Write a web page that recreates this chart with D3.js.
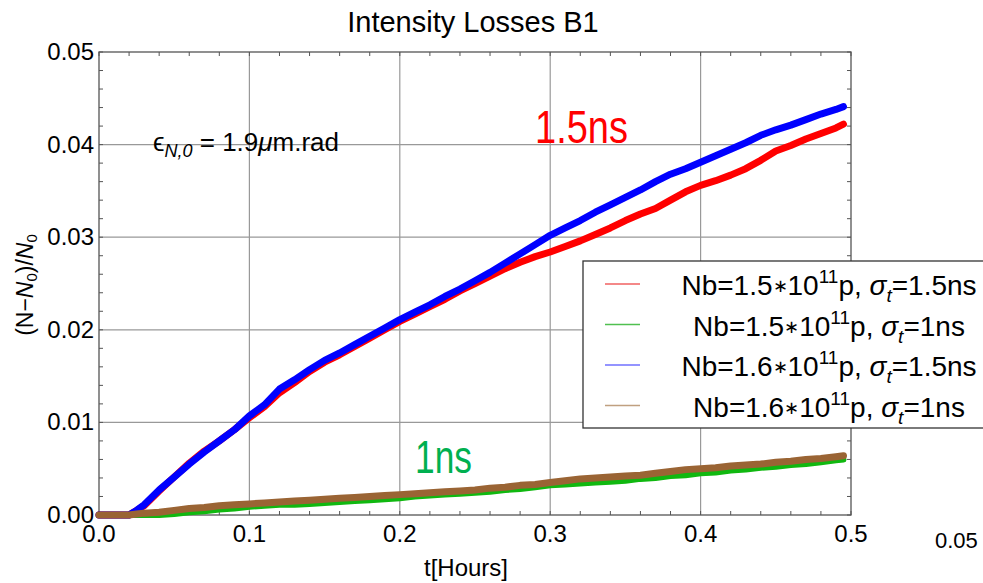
<!DOCTYPE html>
<html lang="en">
<head>
<meta charset="UTF-8">
<title>Intensity Losses B1</title>
<script src="https://d3js.org/d3.v7.min.js"></script>
<style>
  body { margin: 0; background: #fff; }
  text { font-family: "Liberation Sans", Arial, sans-serif; }
</style>
</head>
<body>
<svg id="chart" width="983" height="583"></svg>
<script>
// time axis (hours), shared by all series
const hours = [0, 0.02, 0.025, 0.03, 0.04, 0.05, 0.06, 0.07, 0.08, 0.09, 0.10,
  0.11, 0.12, 0.13, 0.14, 0.15, 0.16, 0.17, 0.18, 0.19, 0.20,
  0.21, 0.22, 0.23, 0.24, 0.25, 0.26, 0.27, 0.28, 0.29, 0.30,
  0.31, 0.32, 0.33, 0.34, 0.35, 0.36, 0.37, 0.38, 0.39, 0.40,
  0.41, 0.42, 0.43, 0.44, 0.45, 0.46, 0.47, 0.48, 0.49, 0.495];

// (N-N0)/N0 per series
const red15 = [0, 0, 0.0005, 0.0010, 0.0026, 0.0041, 0.0056, 0.0069, 0.0080, 0.0092, 0.0105,
  0.0117, 0.0132, 0.0143, 0.0155, 0.0165, 0.0173, 0.0182, 0.0191, 0.0200, 0.0209,
  0.0217, 0.0225, 0.0233, 0.0242, 0.0250, 0.0258, 0.0266, 0.0273, 0.0279, 0.0284,
  0.0290, 0.0296, 0.0303, 0.0310, 0.0318, 0.0325, 0.0331, 0.0340, 0.0349, 0.0356,
  0.0361, 0.0367, 0.0374, 0.0383, 0.0393, 0.0399, 0.0406, 0.0412, 0.0418, 0.0422];
const green15 = [0, 0, 0, 0, 0, 0.0001, 0.0003, 0.0004, 0.0006, 0.0007, 0.0009,
  0.0010, 0.0011, 0.0011, 0.0012, 0.0013, 0.0014, 0.0015, 0.0016, 0.0017, 0.0018,
  0.0020, 0.0021, 0.0022, 0.0023, 0.0024, 0.0025, 0.0027, 0.0028, 0.0030, 0.0032,
  0.0033, 0.0034, 0.0035, 0.0036, 0.0037, 0.0039, 0.0040, 0.0042, 0.0043, 0.0045,
  0.0046, 0.0048, 0.0049, 0.0051, 0.0052, 0.0054, 0.0055, 0.0057, 0.0059, 0.0060];
const blue16 = [0, 0, 0.0005, 0.0011, 0.0027, 0.0041, 0.0055, 0.0068, 0.0080, 0.0092, 0.0107,
  0.0119, 0.0136, 0.0146, 0.0157, 0.0167, 0.0175, 0.0184, 0.0193, 0.0202, 0.0211,
  0.0219, 0.0227, 0.0236, 0.0244, 0.0253, 0.0262, 0.0272, 0.0282, 0.0292, 0.0302,
  0.0310, 0.0318, 0.0327, 0.0335, 0.0343, 0.0351, 0.0360, 0.0368, 0.0374, 0.0381,
  0.0388, 0.0395, 0.0402, 0.0410, 0.0416, 0.0421, 0.0427, 0.0433, 0.0438, 0.0441];
const brown16 = [0, 0, 0.0001, 0.0002, 0.0003, 0.0005, 0.0007, 0.0008, 0.0010, 0.0011, 0.0012,
  0.0013, 0.0014, 0.0015, 0.0016, 0.0017, 0.0018, 0.0019, 0.0020, 0.0021, 0.0022,
  0.0023, 0.0024, 0.0025, 0.0026, 0.0027, 0.0029, 0.0030, 0.0032, 0.0033, 0.0035,
  0.0037, 0.0039, 0.0040, 0.0041, 0.0042, 0.0043, 0.0045, 0.0047, 0.0049, 0.0050,
  0.0051, 0.0053, 0.0054, 0.0055, 0.0057, 0.0058, 0.0060, 0.0061, 0.0063, 0.0064];

const xTicks = [0, 0.1, 0.2, 0.3, 0.4, 0.5];
const xTickLabels = ["0.0", "0.1", "0.2", "0.3", "0.4", "0.5"];
const yTicks = [0, 0.01, 0.02, 0.03, 0.04, 0.05];
const yTickLabels = ["0.00", "0.01", "0.02", "0.03", "0.04", "0.05"];

const seriesNames = ["1.5", "1.5", "1.6", "1.6"];
const seriesSigma = ["1.5ns", "1ns", "1.5ns", "1ns"];

// series: values, line colour, legend swatch colour, width
const series = [
  { values: red15, color: "#ff0000", swatch: "#f06060", w: 7 },
  { values: green15, color: "#10b810", swatch: "#50c050", w: 6 },
  { values: blue16, color: "#0000ff", swatch: "#7070ff", w: 7 },
  { values: brown16, color: "#9a6434", swatch: "#c0a080", w: 7 }
];

const svg = d3.select("#chart");
const pLeft = 99, pRight = 851, pTop = 52, pBottom = 515;

const x = d3.scaleLinear().domain([0, 0.5]).range([pLeft, pRight]);
const y = d3.scaleLinear().domain([0, 0.05]).range([pBottom, pTop]);

// grid
svg.append("g").selectAll("line").data(xTicks.slice(1, -1)).join("line")
  .attr("x1", d => x(d)).attr("x2", d => x(d))
  .attr("y1", pTop).attr("y2", pBottom)
  .attr("stroke", "#999").attr("stroke-width", 1.2);
svg.append("g").selectAll("line").data(yTicks.slice(1, -1)).join("line")
  .attr("y1", d => y(d)).attr("y2", d => y(d))
  .attr("x1", pLeft).attr("x2", pRight)
  .attr("stroke", "#999").attr("stroke-width", 1.2);

// inside ticks on all four sides
const xMinor = d3.range(0, 0.5001, 0.02);
const yMinor = d3.range(0, 0.05001, 0.002);
const tickG = svg.append("g").attr("stroke", "#555").attr("stroke-width", 1);
xMinor.forEach(t => {
  tickG.append("line").attr("x1", x(t)).attr("x2", x(t)).attr("y1", pBottom).attr("y2", pBottom - 4);
  tickG.append("line").attr("x1", x(t)).attr("x2", x(t)).attr("y1", pTop).attr("y2", pTop + 4);
});
yMinor.forEach(v => {
  tickG.append("line").attr("y1", y(v)).attr("y2", y(v)).attr("x1", pLeft).attr("x2", pLeft + 4);
  tickG.append("line").attr("y1", y(v)).attr("y2", y(v)).attr("x1", pRight).attr("x2", pRight - 4);
});

// frame
svg.append("rect").attr("x", pLeft).attr("y", pTop)
  .attr("width", pRight - pLeft).attr("height", pBottom - pTop)
  .attr("fill", "none").attr("stroke", "#555").attr("stroke-width", 1.3);

// tick labels
svg.append("g").selectAll("text").data(xTicks).join("text")
  .attr("x", d => x(d)).attr("y", pBottom + 27)
  .attr("text-anchor", "middle").attr("font-size", 24)
  .text((d, i) => xTickLabels[i]);
svg.append("g").selectAll("text").data(yTicks).join("text")
  .attr("x", pLeft - 5).attr("y", d => y(d) + 8)
  .attr("text-anchor", "end").attr("font-size", 24)
  .text((d, i) => yTickLabels[i]);

// curves
const line = d3.line().x((d, i) => x(hours[i])).y(d => y(d));
series.forEach(s => {
  svg.append("path").datum(s.values)
    .attr("d", line)
    .attr("fill", "none")
    .attr("stroke", s.color)
    .attr("stroke-width", s.w)
    .attr("stroke-linecap", "round")
    .attr("stroke-linejoin", "round");
});

// title and axis labels
svg.append("text").attr("x", 473).attr("y", 32)
  .attr("text-anchor", "middle").attr("font-size", 29)
  .text("Intensity Losses B1");

svg.append("text").attr("x", 466).attr("y", 576)
  .attr("text-anchor", "middle").attr("font-size", 24)
  .text("t[Hours]");

const yl = svg.append("text")
  .attr("transform", "translate(33,285) rotate(-90)")
  .attr("text-anchor", "middle").attr("font-size", 23);
yl.append("tspan").text("(N\u2212");
yl.append("tspan").attr("font-style", "italic").text("N");
yl.append("tspan").attr("font-size", 15).attr("dy", 4).text("0");
yl.append("tspan").attr("dy", -4).text(")/");
yl.append("tspan").attr("font-style", "italic").text("N");
yl.append("tspan").attr("font-size", 15).attr("dy", 4).text("0");

// emittance annotation
const em = svg.append("text").attr("x", 153).attr("y", 151).attr("font-size", 26);
em.append("tspan").text("\u03f5");
em.append("tspan").attr("font-size", 18).attr("font-style", "italic").attr("dy", 6).text("N,0");
em.append("tspan").attr("dy", -6).text(" = 1.9");
em.append("tspan").attr("font-style", "italic").text("\u03bc");
em.append("tspan").text("m.rad");

// big annotations
svg.append("text").attr("x", 535).attr("y", 143)
  .attr("font-family", "'Open Sans', sans-serif").attr("font-size", 46)
  .attr("fill", "#ff0000").attr("textLength", 93).attr("lengthAdjust", "spacingAndGlyphs")
  .text("1.5ns");
svg.append("text").attr("x", 415).attr("y", 473)
  .attr("font-family", "'Open Sans', sans-serif").attr("font-size", 46)
  .attr("fill", "#00b050").attr("textLength", 57).attr("lengthAdjust", "spacingAndGlyphs")
  .text("1ns");

// legend
const lg = svg.append("g");
lg.append("rect").attr("x", 583).attr("y", 261).attr("width", 420).attr("height", 167)
  .attr("fill", "#fff").attr("stroke", "#333").attr("stroke-width", 1.3);
series.forEach((s, i) => {
  const cy = 284 + i * 40.5;
  lg.append("line").attr("x1", 605).attr("x2", 640).attr("y1", cy).attr("y2", cy)
    .attr("stroke", s.swatch).attr("stroke-width", 1.6);
  const t = lg.append("text").attr("x", 829).attr("y", cy + 11)
    .attr("text-anchor", "middle").attr("font-size", 28);
  t.append("tspan").text("Nb=" + seriesNames[i]);
  t.append("tspan").attr("font-size", 18).attr("dy", -3).text("\u2217");
  t.append("tspan").attr("dy", 3).text("10");
  t.append("tspan").attr("font-size", 19).attr("dy", -12).text("11");
  t.append("tspan").attr("dy", 12).text("p, ");
  t.append("tspan").attr("font-style", "italic").text("\u03c3");
  t.append("tspan").attr("font-style", "italic").attr("font-size", 19).attr("dy", 7).text("t");
  t.append("tspan").attr("dy", -7).text("=" + seriesSigma[i]);
});

// stray label at bottom right
svg.append("text").attr("x", 935).attr("y", 548).attr("font-size", 22).text("0.05");
</script>
</body>
</html>
